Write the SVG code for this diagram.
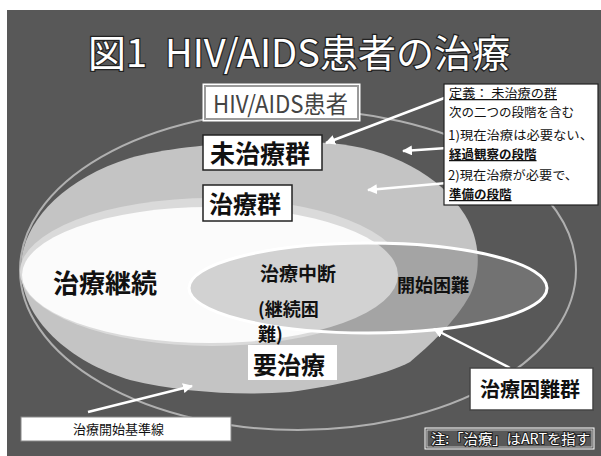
<svg xmlns="http://www.w3.org/2000/svg" width="601" height="456" viewBox="0 0 601 456">
<style>
text{font-family:"Noto Sans CJK JP","Noto Sans",sans-serif;}
.title{font-size:38px;fill:#fff;stroke:#222;stroke-width:2.5px;paint-order:stroke;}
.lbl{fill:#111;font-weight:bold;}
.def{font-size:12.5px;fill:#111;}
.defb{font-size:12.5px;fill:#111;font-weight:bold;text-decoration:underline;}
.box{fill:#fff;stroke:#222;stroke-width:1.5;}
.arrow{stroke:#fff;stroke-width:2.5;fill:none;marker-end:url(#ah);}
</style>
<defs>
<marker id="ah" viewBox="0 0 10 10" refX="9" refY="5" markerWidth="10" markerHeight="10" markerUnits="userSpaceOnUse" orient="auto">
<path d="M0,0 L10,5 L0,10 z" fill="#fff"/>
</marker>
<path id="pathC" d="M21,268 C21,225 60,180 130,158 C180,144 260,140 330,143 C390,148 440,175 465,215 C480,240 482,270 470,295 C455,322 430,345 410,362 C385,375 340,385 290,392 C240,396 180,392 130,380 C70,362 21,320 21,268 Z"/>
<clipPath id="clipB"><ellipse cx="368" cy="288" rx="179" ry="45"/></clipPath>
</defs>
<rect x="0" y="0" width="601" height="456" fill="#fff"/>
<rect x="7" y="10" width="594" height="446" fill="#585858"/>

<g id="title">
<text class="title" y="67"><tspan x="88">図1</tspan><tspan x="165">HIV/AIDS患者の治療</tspan></text>
</g>

<g id="all-patients">
<ellipse cx="298" cy="270" rx="278" ry="160" fill="none" stroke="#b0b0b0" stroke-width="2"/>
</g>

<g id="need-treatment">
<use href="#pathC" fill="#c4c4c4"/>
</g>

<g id="treated">
<ellipse cx="212" cy="272" rx="192" ry="74" fill="#dadada"/>
<ellipse cx="210" cy="275" rx="188" ry="68" fill="#fbfbfb"/>
</g>

<g id="difficult">
<g clip-path="url(#clipB)">
<rect x="180" y="230" width="380" height="120" fill="#727272"/>
<use href="#pathC" fill="#a4a4a4"/>
<ellipse cx="210" cy="275" rx="188" ry="68" fill="#d2d2d2"/>
</g>
<ellipse cx="368" cy="288" rx="179" ry="45" fill="none" stroke="#fff" stroke-width="3"/>
</g>

<g id="connectors">
<path class="arrow" d="M447,97 L326,143"/>
<path class="arrow" d="M447,148 L403,151"/>
<path class="arrow" d="M447,183 L368,190"/>
<path class="arrow" d="M88,412 L192,386"/>
<path class="arrow" d="M510,368 L434,329"/>
</g>

<g id="label-hiv">
<rect x="203" y="84" width="157" height="37" fill="#fff" stroke="#fff" stroke-width="1"/>
<rect x="205" y="86" width="153" height="33" fill="#fff" stroke="#9a9a9a" stroke-width="2"/>
<text x="213" y="113" font-size="24" fill="#444" textLength="135" lengthAdjust="spacingAndGlyphs">HIV/AIDS患者</text>
</g>

<g id="label-untreated">
<rect class="box" x="203" y="135" width="119" height="35"/>
<text class="lbl" x="210" y="163" font-size="25">未治療群</text>
</g>

<g id="label-treated">
<rect class="box" x="203" y="185" width="89" height="36"/>
<text class="lbl" x="209" y="213" font-size="24">治療群</text>
</g>

<g id="definition">
<rect x="444" y="84" width="154" height="121" fill="#fff" stroke="#222" stroke-width="1.2"/>
<text class="def" x="449" y="98" text-decoration="underline" textLength="108" lengthAdjust="spacingAndGlyphs">定義： 未治療の群</text>
<text class="def" x="449" y="117">次の二つの段階を含む</text>
<text class="def" x="448" y="140" textLength="145" lengthAdjust="spacingAndGlyphs">1)現在治療は必要ない、</text>
<text class="defb" x="449" y="159">経過観察の段階</text>
<text class="def" x="448" y="180" textLength="130" lengthAdjust="spacingAndGlyphs">2)現在治療が必要で、</text>
<text class="defb" x="449" y="199">準備の段階</text>
</g>

<g id="label-continue">
<text class="lbl" x="53" y="293" font-size="26">治療継続</text>
</g>

<g id="label-interrupt">
<text class="lbl" x="260" y="281" font-size="19" fill="#222">治療中断</text>
<text class="lbl" x="258" y="316" font-size="18" fill="#222">(継続困</text>
<text class="lbl" x="258" y="341" font-size="18" fill="#222">難)</text>
</g>

<g id="label-start">
<text class="lbl" x="397" y="292" font-size="18" fill="#2a2a2a">開始困難</text>
</g>

<g id="label-need">
<rect x="248" y="345" width="89" height="35" fill="#fff"/>
<text class="lbl" x="253" y="374" font-size="24">要治療</text>
</g>

<g id="label-difficult">
<rect x="470" y="368" width="123" height="42" fill="#fff" stroke="#444" stroke-width="1.5"/>
<text class="lbl" x="480" y="397" font-size="20">治療困難群</text>
</g>

<g id="label-criterion">
<rect x="21" y="417" width="210" height="24" fill="#fff" stroke="#888" stroke-width="1"/>
<text x="73" y="434" font-size="13" fill="#111">治療開始基準線</text>
</g>

<g id="note">
<rect x="425" y="428" width="169" height="21" fill="none" stroke="#fff" stroke-width="1"/>
<rect x="427" y="430" width="165" height="17" fill="none" stroke="#ddd" stroke-width="0.8"/>
<text x="431" y="444" font-size="14" fill="#fff" stroke="#222" stroke-width="2" paint-order="stroke" textLength="159" lengthAdjust="spacingAndGlyphs">注:「治療」はARTを指す</text>
</g>
</svg>
